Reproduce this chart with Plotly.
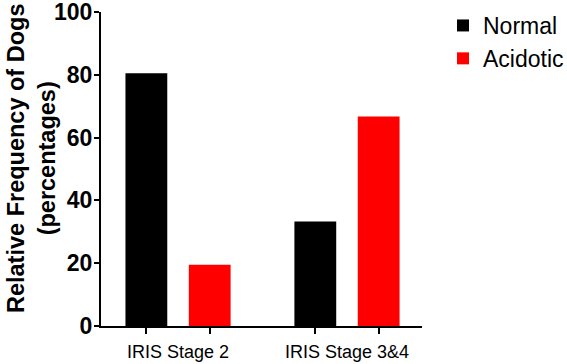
import plotly.graph_objects as go

categories = ["IRIS Stage 2", "IRIS Stage 3&4"]
series_names = ["Normal", "Acidotic"]
normal_vals = [80.5, 33.3]
acidotic_vals = [19.5, 66.7]
y_ticks = [0, 20, 40, 60, 80, 100]

colors = ["#000000", "#FF0000"]
BARGAP = 0.25
BARGROUPGAP = 0.34
FONT = "Liberation Sans, Arial, sans-serif"

xpos = list(range(len(categories)))
fig = go.Figure()
for name, vals, col in zip(series_names, [normal_vals, acidotic_vals], colors):
    fig.add_trace(go.Bar(x=xpos, y=vals, name=name, marker=dict(color=col, line=dict(width=0)),
                         legendgroup=name))

off = (1 - BARGAP) / 4
tickpos = []
for p in xpos:
    tickpos += [p - off, p + off]

W, H = 567, 364
ml, mr, mt, mb = 101, 145, 12, 38
fig.update_layout(
    width=W, height=H, barmode="group", bargap=BARGAP, bargroupgap=BARGROUPGAP,
    margin=dict(l=ml, r=mr, t=mt, b=mb, pad=0, autoexpand=False),
    plot_bgcolor="white", paper_bgcolor="white",
    font=dict(family=FONT, color="black"),
    legend=dict(xref="container", yref="container", x=443 / W, y=1 - 4 / H,
                xanchor="left", yanchor="top", traceorder="grouped",
                tracegroupgap=0, font=dict(size=23, family=FONT, color="black"),
                itemwidth=30, bgcolor="rgba(0,0,0,0)"),
    xaxis=dict(range=[-0.456, 1.444], tickvals=tickpos, ticktext=[""] * len(tickpos),
               ticks="outside", ticklen=6, tickwidth=2, tickcolor="black",
               showline=True, linecolor="black", linewidth=2, showgrid=False, zeroline=False),
    yaxis=dict(range=[0, 100], tickvals=y_ticks, ticks="outside", ticklen=5, tickwidth=2,
               tickcolor="black", showline=True, linecolor="black", linewidth=2,
               showgrid=False, zeroline=False, ticklabeloverflow="allow",
               ticklabelstandoff=-3,
               tickfont=dict(size=23, family=FONT, weight="bold", color="black")),
)
for p, c in zip(xpos, categories):
    fig.add_annotation(x=p, y=0, xref="x", yref="paper", text=c, showarrow=False,
                       yanchor="top", yshift=-14, font=dict(size=18, family=FONT, color="black"))
fig.add_annotation(x=-0.218, y=0.535, xref="paper", yref="paper",
                   text="Relative Frequency of Dogs<br>(percentages)", textangle=-90,
                   showarrow=False, xanchor="center", yanchor="middle",
                   font=dict(size=23.5, family=FONT, weight="bold", color="black"))
fig.write_html("out.html")
